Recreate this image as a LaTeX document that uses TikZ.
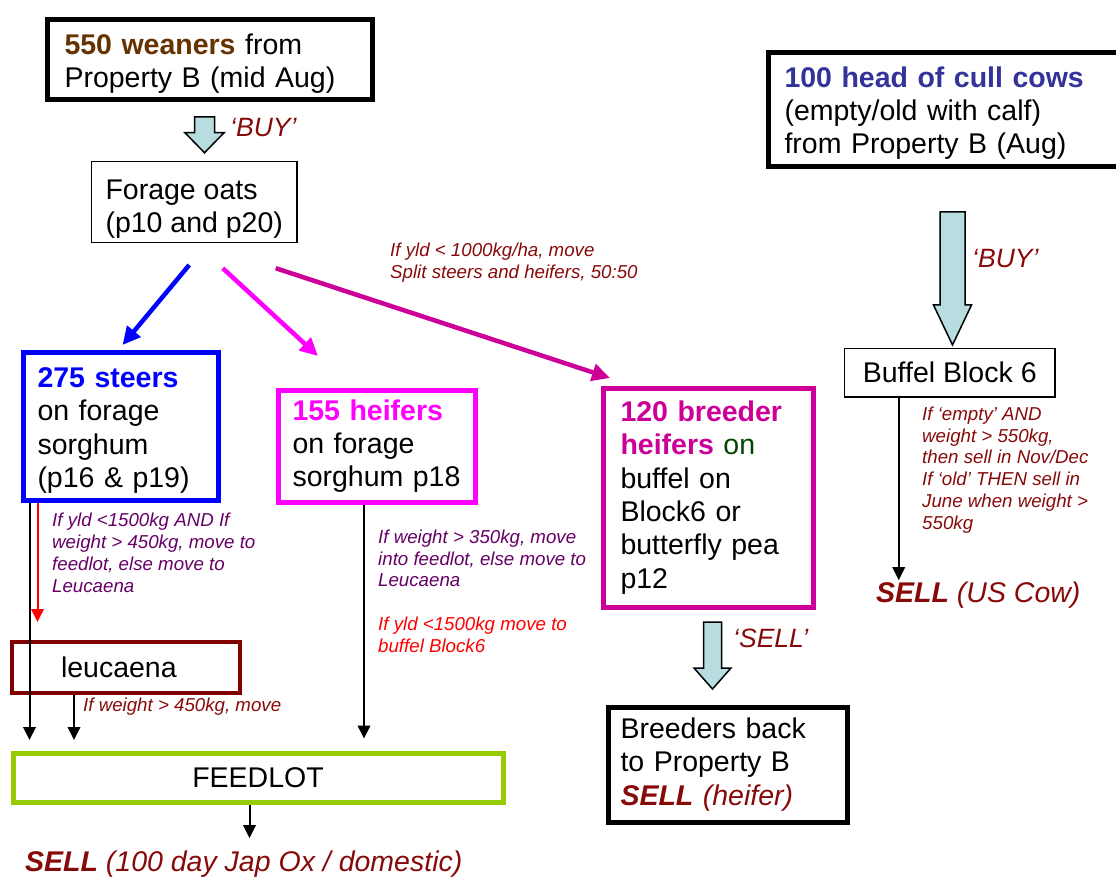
\documentclass[tikz,border=0pt]{standalone}
\usepackage{fontspec}
\setmainfont{Liberation Sans}
\usetikzlibrary{arrows.meta,calc,positioning}
\definecolor{steerblue}{RGB}{0,0,255}
\definecolor{heifmag}{RGB}{255,0,255}
\definecolor{breedpurple}{RGB}{204,0,153}
\definecolor{notered}{RGB}{135,10,10}
\definecolor{steerpurple}{RGB}{102,0,102}
\definecolor{weanbrown}{RGB}{102,51,0}
\definecolor{cullblue}{RGB}{51,51,153}
\definecolor{ongreen}{RGB}{0,70,0}
\definecolor{feedgreen}{RGB}{153,204,0}
\definecolor{leucred}{RGB}{128,0,0}
\definecolor{arrowfill}{RGB}{183,221,224}
\newcommand\bigtext{\fontsize{28.5}{33.3}\selectfont}
\newcommand\smalltext{\fontsize{18.7}{21.8}\selectfont}
\newcommand\midtext{\fontsize{26.5}{30}\selectfont}
\newcommand\Lift[1]{\rule{0pt}{#1pt}}
\def\Sell{\textbf{SELL}}
% fat down arrow: top, tip, half shaft, half head, head length
\newcommand\FatDown[5]{%
  \draw[fatfill] let \p1=#1, \p2=#2 in
    (\x1-#3pt,\y1) -- (\x1+#3pt,\y1) -- (\x1+#3pt,\y2+#5pt) -- (\x1+#4pt,\y2+#5pt)
    -- (\x1,\y2) -- (\x1-#4pt,\y2+#5pt) -- (\x1-#3pt,\y2+#5pt) -- cycle;}

\begin{document}
\begin{tikzpicture}[% units are the pixels of the page, y runs down
				x=1pt,y=-1pt,
				every node/.style={
					inner sep=0pt,
					font=\bigtext
				},
				box/.style={draw,fill=white,align=left,line width=5pt,anchor=north west,inner ysep=4pt},
				thinbox/.style={box,line width=1.5pt},
				note/.style={font=\smalltext\itshape,align=left,anchor=north west,text=notered},
				tag/.style={font=\midtext\itshape,anchor=base west,text=notered},
				tick/.style={-{Triangle[length=13pt,width=12.5pt]},line width=2pt},
				fat/.style={-{Triangle[length=18pt,width=17pt]},line width=4.5pt},
				fatfill/.style={draw=black,fill=arrowfill,line width=1.5pt},
				every edge/.style={draw}
			]
			\useasboundingbox (0,0) rectangle (1116,882);
			% boxes
			\node[box,minimum width=325pt,minimum height=80pt,text width=290pt,inner xsep=17.5pt](Wean) at (44.5,17.5)
				{\Lift{28}\textcolor{weanbrown}{\textbf{550 weaners}} from\\Property B (mid Aug)};
			\node[thinbox,minimum width=205.5pt,minimum height=74.5pt](Oats) at (90.75,160.75)
				{\Lift{34}Forage oats\\(p10 and p20)};
			\node[box,draw=steerblue,minimum width=195pt,minimum height=147pt,text width=166pt,inner xsep=14.5pt](Steer) at (20.5,350.5)
				{\Lift{28}\textcolor{steerblue}{\textbf{275 steers}}\\on forage\\sorghum\\(p16 \& p19)};
			\node[box,draw=heifmag,minimum width=197pt,minimum height=112pt,text width=168pt,inner xsep=14.5pt](Heif) at (275.5,387.5)
				{\textcolor{heifmag}{\textbf{155 heifers}}\\on forage\\sorghum p18};
			\node[box,draw=breedpurple,minimum width=210pt,minimum height=219pt,text width=175pt,inner xsep=17.5pt](Breed) at (600.5,385.5)
				{\textcolor{breedpurple}{\textbf{120 breeder}}\\\textcolor{breedpurple}{\textbf{heifers}} \textcolor{ongreen}{on}\\buffel on\\Block6 or\\butterfly pea\\p12};
			\node[box,minimum width=360pt,minimum height=114pt,text width=327pt,inner xsep=16.5pt](Cull) at (765.5,50.5)
				{\Lift{27}\textcolor{cullblue}{\textbf{100 head of cull cows}}\\(empty/old with calf)\\from Property B (Aug)};
			\node[thinbox,align=center,minimum width=210.5pt,minimum height=48.5pt](Buff) at (843.75,347.75) {Buffel Block 6};
			\node[box,draw=leucred,line width=4pt,minimum height=50.7pt,text width=130pt,inner xsep=49pt](Leuc) at (10,640) {leucaena};
			\node[box,draw=feedgreen,align=center,minimum width=490pt,minimum height=49pt](Feed) at (10.5,750.5) {FEEDLOT};
			\node[box,minimum width=239pt,minimum height=115pt,text width=214pt,inner xsep=12.5pt](Back) at (605.5,704.5)
				{Breeders back\\to Property B\\\textcolor{notered}{\textit{\Sell{} (heifer)}}};
			\node[anchor=base west,text=notered](SellCow) at (876,602) {\textit{\Sell{} (US Cow)}};
			\node[anchor=base west,text=notered](SellOx) at (25,871) {\textit{\Sell{} (100 day Jap Ox / domestic)}};
			% labels
			\node[tag](BuyA) at (230,137) {`BUY'};
			\node[tag](BuyB) at (972,268) {`BUY'};
			\node[tag](SellA) at (733,647) {`SELL'};
			\node[note](YldNote) at (390,242.5) {If yld < 1000kg/ha, move\\Split steers and heifers, 50:50};
			\node[note,text=steerpurple](SteerNote) at (52,513) {If yld <1500kg AND If\\weight > 450kg, move to\\feedlot, else move to\\Leucaena};
			\node[note,text=steerpurple](HeifNote) at (378,529.5) {If weight > 350kg, move\\into feedlot, else move to\\Leucaena};
			\node[note,text=red](HeifNoteB) at (378,616.5) {If yld <1500kg move to\\buffel Block6};
			\node[note](CowNote) at (922,406.5) {If `empty' AND\\weight > 550kg,\\then sell in Nov/Dec\\If `old' THEN sell in\\June when weight >\\550kg};
			\node[note](LeucNote) at (83,697.5) {If weight > 450kg, move};
			% fat arrows
			\FatDown{($(Wean.south)+(-5,14.5)$)}{($(Oats.north)+(8.5,-8)$)}{10}{19.5}{20}
			\FatDown{($(Cull.south)+(4.5,42.5)$)}{($(Buff.north)+(0,-2.75)$)}{12.5}{19}{40}
			\FatDown{($(Breed.south)+(4.5,12.5)$)}{($(Back.north)+(0,-15.5)$)}{9}{18.5}{21}
			% thin arrows
			\coordinate (SteerOut) at ($(Steer.south west)+(9,0)$);
			\coordinate (SteerRed) at ($(Steer.south west)+(17,0)$);
			\coordinate (LeucOut) at ($(Leuc.south west)+(64,0)$);
			\coordinate (HeifOut) at ($(Heif.south west)+(88.5,0)$);
			\coordinate (FeedOut) at ($(Feed.south)+(-8.5,0)$);
			\coordinate (BuffOut) at ($(Buff.south)+(-51,0)$);
			\path[tick]
			(SteerOut)edge [shorten >=10.5pt]	(SteerOut |- Feed.north)
			(SteerRed)edge [draw=red,shorten >=18pt]	(SteerRed |- Leuc.north)
			(LeucOut)edge [shorten >=10.5pt]	(LeucOut |- Feed.north)
			(HeifOut)edge [shorten >=12pt]	(HeifOut |- Feed.north)
			(FeedOut)edge [shorten >=12pt]	(FeedOut |- SellOx.north)
			(BuffOut)edge [shorten >=1pt]	(BuffOut |- SellCow.north)
			;
			% coloured arrows out of the oats
			\path[fat]
			($(Oats.south)+(-5,21.5)$)edge [draw=steerblue]	($(Steer.north)+(2,-5.5)$)
			($(Oats.south)+(28.5,24.75)$)edge [draw=heifmag]	($(Heif.north west)+(42.5,-31.5)$)
			($(Oats.south)+(81.5,24.75)$)edge [draw=breedpurple]	($(Breed.north west)+(9.5,-7.5)$)
			;
		\end{tikzpicture}
\end{document}
